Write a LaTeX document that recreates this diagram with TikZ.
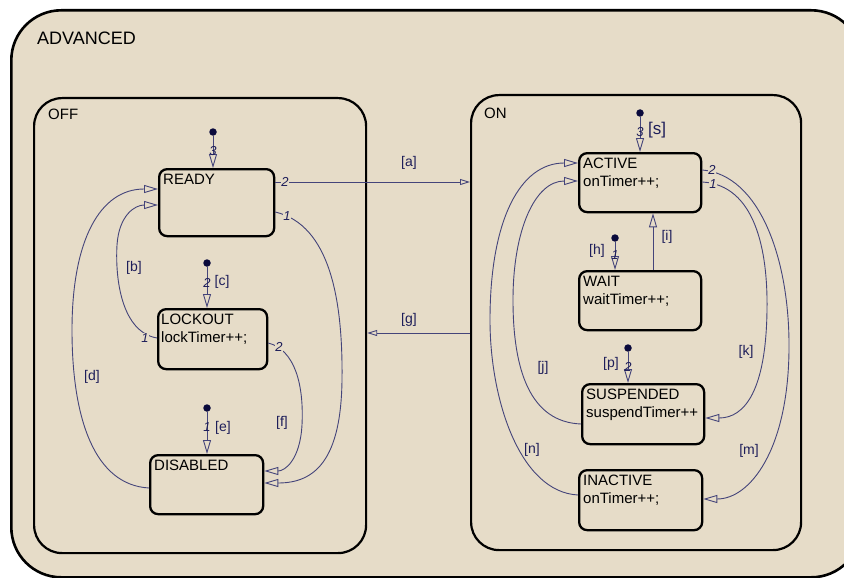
\documentclass[tikz,border=0pt]{standalone}
\usepackage{fontspec}
\setmainfont{Liberation Sans}
\usetikzlibrary{arrows.meta}
\definecolor{bg}{HTML}{E6DCC8}
\definecolor{wirec}{HTML}{44447A}
\definecolor{labc}{HTML}{1E1E5A}
\definecolor{dotc}{HTML}{0A0A3C}
\begin{document}
\begin{tikzpicture}[x=1pt,y=-1pt,
  container/.style={draw=black, line width=2.2pt, anchor=north west, inner sep=0pt, rounded corners=28pt},
  statebox/.style={draw=black, line width=2.3pt, anchor=north west, inner sep=0pt, rounded corners=8pt},
  stext/.style={anchor=north west, inner sep=0pt, align=left, font=\fontsize{15}{18}\selectfont},
  title/.style={anchor=west, inner sep=0pt},
  wire/.style={draw=wirec, line width=0.9pt},
  opentip/.style={-{Triangle[open, length=14pt, width=8pt]}},
  smallopentip/.style={-{Triangle[open, length=10pt, width=6pt]}},
  guard/.style={text=labc, font=\fontsize{14}{16}\selectfont, inner sep=1pt},
  num/.style={text=labc, font=\itshape\fontsize{13}{15}\selectfont, inner sep=0.8pt, fill=bg},
  dnum/.style={text=labc, font=\itshape\fontsize{13}{15}\selectfont, inner sep=0pt},
  initdot/.style={circle, fill=dotc, inner sep=0pt, minimum size=7.5pt},
]
\useasboundingbox (0,0) rectangle (844,578);
\clip (0,0) rectangle (844,578);
\fill[white] (0,0) rectangle (844,578);

% containers
\node[container, fill=bg, line width=2.6pt, rounded corners=50pt, minimum width=850pt, minimum height=567pt] (adv) at (10,9) {};
\node[title, font=\fontsize{18}{20}\selectfont] (advt) at (37,38.5) {ADVANCED};
\node[container, minimum width=332pt, minimum height=455pt] (off) at (33,97) {};
\node[title, font=\fontsize{15}{17}\selectfont] (offt) at (48,114) {OFF};
\node[container, minimum width=330pt, minimum height=455pt] (on) at (470,94) {};
\node[title, font=\fontsize{15}{17}\selectfont] (ont) at (484,113) {ON};

% states
\node[statebox, minimum width=115pt, minimum height=67pt] (ready) at (158,168) {};
\node[stext] (readyt) at ([shift={(5,6)}]ready.north west) {READY};
\node[statebox, minimum width=109pt, minimum height=60pt] (lockout) at (157,308) {};
\node[stext] (lockoutt) at ([shift={(4,6)}]lockout.north west) {LOCKOUT\\lockTimer++;};
\node[statebox, minimum width=113pt, minimum height=59pt] (disabled) at (149,454) {};
\node[stext] (disabledt) at ([shift={(5,6)}]disabled.north west) {DISABLED};
\node[statebox, minimum width=122pt, minimum height=59pt] (active) at (578,152) {};
\node[stext] (activet) at ([shift={(5,6)}]active.north west) {ACTIVE\\onTimer++;};
\node[statebox, minimum width=122pt, minimum height=59pt] (wait) at (578,270) {};
\node[stext] (waitt) at ([shift={(5,6)}]wait.north west) {WAIT\\waitTimer++;};
\node[statebox, minimum width=122pt, minimum height=60pt] (suspended) at (581,383) {};
\node[stext] (suspendedt) at ([shift={(5,6)}]suspended.north west) {SUSPENDED\\suspendTimer++};
\node[statebox, minimum width=123pt, minimum height=60pt] (inactive) at (578,469) {};
\node[stext] (inactivet) at ([shift={(5,6)}]inactive.north west) {INACTIVE\\onTimer++;};

% connection points
\coordinate (r2) at ([shift={(0,14)}]ready.north east);
\coordinate (r1) at ([shift={(0,44)}]ready.north east);
\coordinate (rinA) at ([shift={(0,21)}]ready.north west);
\coordinate (rinB) at ([shift={(0,37)}]ready.north west);
\coordinate (l1) at ([shift={(0,30)}]lockout.north west);
\coordinate (l2) at ([shift={(0,35)}]lockout.north east);
\coordinate (dA) at ([shift={(0,17)}]disabled.north east);
\coordinate (dB) at ([shift={(0,29)}]disabled.north east);
\coordinate (dout) at ([shift={(0,34)}]disabled.north west);
\coordinate (a2) at ([shift={(0,18)}]active.north east);
\coordinate (a1) at ([shift={(0,30)}]active.north east);
\coordinate (ainA) at ([shift={(0,11)}]active.north west);
\coordinate (ainB) at ([shift={(0,29)}]active.north west);
\coordinate (wt) at ([shift={(75,0)}]wait.north west);
\coordinate (sin) at ([shift={(0,35)}]suspended.north east);
\coordinate (sout) at ([shift={(0,41)}]suspended.north west);
\coordinate (iin) at ([shift={(0,30)}]inactive.north east);
\coordinate (iout) at ([shift={(0,26)}]inactive.north west);
\coordinate (g0) at ([shift={(0,239)}]on.north west);

% transitions OFF
\draw[wire, smallopentip] (r2) -- (r2 -| on.west);
\draw[wire, smallopentip] (g0) -- (g0 -| off.east);
\draw[wire, opentip] (r1) .. controls (330,225) and (343,300) .. (342,380) .. controls (341,460) and (315,483) .. (dB);
\draw[wire, opentip] (l2) .. controls (295,350) and (304,385) .. (302,425) .. controls (300,460) and (285,471) .. (dA);
\draw[wire, opentip] (l1) .. controls (122,332) and (115,280) .. (117,245) .. controls (119,215) and (135,205) .. (rinB);
\draw[wire, opentip] (dout) .. controls (95,485) and (72,420) .. (72,330) .. controls (72,240) and (100,189) .. (rinA);

% transitions ON
\draw[wire, opentip] (a2) .. controls (760,175) and (790,260) .. (789,350) .. controls (788,450) and (750,499) .. (iin);
\draw[wire, opentip] (a1) .. controls (755,185) and (768,250) .. (767,310) .. controls (766,390) and (745,418) .. (sin);
\draw[wire, opentip] (sout) .. controls (530,422) and (513,370) .. (513,300) .. controls (513,230) and (535,181) .. (ainB);
\draw[wire, opentip] (iout) .. controls (520,492) and (490,400) .. (490,320) .. controls (490,220) and (520,163) .. (ainA);
\draw[wire, opentip] (wt) -- (wt |- active.south);

% default transitions
\node[initdot] (i1) at (213,132) {};
\draw[wire, opentip] (i1) -- (i1 |- ready.north);
\node[dnum] (i1n) at (213,151) {3};
\node[initdot] (i2) at (207,263) {};
\draw[wire, opentip] (i2) -- (i2 |- lockout.north);
\node[dnum] (i2n) at (207,283) {2};
\node[guard] (gc) at (222,282) {[c]};
\node[initdot] (i3) at (207,408) {};
\draw[wire, opentip] (i3) -- (i3 |- disabled.north);
\node[dnum] (i3n) at (207,427) {1};
\node[guard] (ge) at (223,428) {[e]};
\node[initdot] (i4) at (640,113) {};
\draw[wire, opentip] (i4) -- (i4 |- active.north);
\node[dnum] (i4n) at (640,132) {3};
\node[guard, font=\fontsize{17}{19}\selectfont] (gs) at (657,130) {[s]};
\node[initdot] (i5) at (615,238) {};
\draw[wire, opentip] (i5) -- (i5 |- wait.north);
\node[dnum] (i5n) at (615,255) {1};
\node[guard] (gh) at (597,251) {[h]};
\node[initdot] (i6) at (628,348) {};
\draw[wire, opentip] (i6) -- (i6 |- suspended.north);
\node[dnum] (i6n) at (628,367) {2};
\node[guard] (gp) at (611,364) {[p]};

% exit numbers
\node[num] (n1) at (285,182) {2};
\node[num] (n2) at (287,216) {1};
\node[num] (n3) at (145,338) {1};
\node[num] (n4) at (279,347) {2};
\node[num, inner sep=0pt] (n5) at (712,170) {2};
\node[num, inner sep=0pt] (n6) at (713,184.5) {1};

% guards
\node[guard] (ga) at (409,163) {[a]};
\node[guard] (gg) at (409,320) {[g]};
\node[guard] (gb) at (134,268) {[b]};
\node[guard] (gd) at (92,377) {[d]};
\node[guard] (gf) at (282,423) {[f]};
\node[guard] (gi) at (667,237) {[i]};
\node[guard] (gj) at (543,368) {[j]};
\node[guard] (gk) at (746,352) {[k]};
\node[guard] (gm) at (749,451) {[m]};
\node[guard] (gn) at (532,450) {[n]};
\end{tikzpicture}
\end{document}
